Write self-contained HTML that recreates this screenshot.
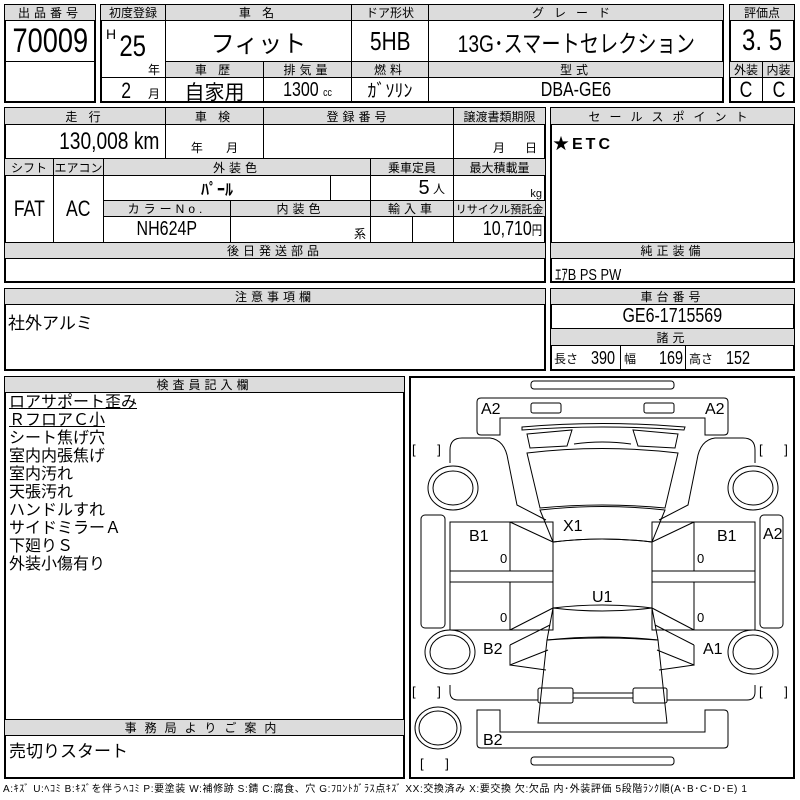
<!DOCTYPE html>
<html><head><meta charset="utf-8"><style>
body{margin:0;width:800px;height:800px;background:#fff;position:relative;overflow:hidden;font-family:"Liberation Sans","Noto Sans CJK JP",sans-serif;color:#000}
.c{position:absolute;border:1px solid #000;box-sizing:border-box;display:flex;align-items:center;justify-content:center;white-space:nowrap;overflow:hidden}
.h{background:#dcdcdc;font-size:12px;letter-spacing:4px}
.b{position:absolute;border:2px solid #000;box-sizing:border-box}
.t{position:absolute;white-space:nowrap}
.n{display:inline-block;transform:scaleX(.8)}
</style></head><body>
<div class="b" style="left:4px;top:4px;width:92px;height:99px"></div>
<div class="c h" style="left:4px;top:4px;width:92px;height:17px">出品番号</div>
<div class="c" style="left:4px;top:20px;width:92px;height:42px;font-size:34px"><span class="n">70009</span></div>
<div class="b" style="left:100px;top:4px;width:624px;height:99px"></div>
<div class="c h" style="left:100px;top:4px;width:66px;height:17px;letter-spacing:0">初度登録</div>
<div class="c h" style="left:165px;top:4px;width:187px;height:17px">車 名</div>
<div class="c h" style="left:351px;top:4px;width:78px;height:17px;letter-spacing:0">ドア形状</div>
<div class="c h" style="left:428px;top:4px;width:296px;height:17px;letter-spacing:10px">グレード</div>
<div class="c" style="left:100px;top:20px;width:66px;height:58px"></div>
<div class="t" style="left:106px;top:26px;font-size:14px">H</div>
<div class="t" style="left:116px;top:30px;font-size:30px"><span class="n">25</span></div>
<div class="t" style="left:148px;top:61px;font-size:12px">年</div>
<div class="c" style="left:165px;top:20px;width:187px;height:42px;font-size:24px">フィット</div>
<div class="c" style="left:351px;top:20px;width:78px;height:42px;font-size:26px"><span class="n">5HB</span></div>
<div class="c" style="left:428px;top:20px;width:296px;height:42px;font-size:24px"><span class="n">13G･スマートセレクション</span></div>
<div class="c h" style="left:165px;top:61px;width:99px;height:17px">車 歴</div>
<div class="c h" style="left:263px;top:61px;width:89px;height:17px">排気量</div>
<div class="c h" style="left:351px;top:61px;width:78px;height:17px">燃料</div>
<div class="c h" style="left:428px;top:61px;width:296px;height:17px">型式</div>
<div class="c" style="left:100px;top:77px;width:66px;height:26px"></div>
<div class="t" style="left:120px;top:78px;font-size:22px"><span class="n">2</span></div>
<div class="t" style="left:148px;top:85px;font-size:12px">月</div>
<div class="c" style="left:165px;top:77px;width:99px;height:26px;font-size:20px">自家用</div>
<div class="c" style="left:263px;top:77px;width:89px;height:26px;font-size:20px"><span class="n">1300 <small style="font-size:11px">cc</small></span></div>
<div class="c" style="left:351px;top:77px;width:78px;height:26px;font-size:18px">ｶﾞｿﾘﾝ</div>
<div class="c" style="left:428px;top:77px;width:296px;height:26px;font-size:20px"><span class="n">DBA-GE6</span></div>
<div class="b" style="left:729px;top:4px;width:66px;height:99px"></div>
<div class="c h" style="left:729px;top:4px;width:66px;height:17px;letter-spacing:0">評価点</div>
<div class="c" style="left:729px;top:20px;width:66px;height:42px;font-size:30px"><span class="n">3.&nbsp;5</span></div>
<div class="c h" style="left:729px;top:61px;width:34px;height:17px;letter-spacing:0">外装</div>
<div class="c h" style="left:762px;top:61px;width:33px;height:17px;letter-spacing:0">内装</div>
<div class="c" style="left:729px;top:77px;width:34px;height:26px;font-size:22px"><span class="n">C</span></div>
<div class="c" style="left:762px;top:77px;width:33px;height:26px;font-size:22px"><span class="n">C</span></div>
<div class="b" style="left:4px;top:107px;width:542px;height:176px"></div>
<div class="c h" style="left:4px;top:107px;width:162px;height:18px">走 行</div>
<div class="c h" style="left:165px;top:107px;width:99px;height:18px">車 検</div>
<div class="c h" style="left:263px;top:107px;width:191px;height:18px">登録番号</div>
<div class="c h" style="left:453px;top:107px;width:93px;height:18px;letter-spacing:0">譲渡書類期限</div>
<div class="c" style="left:4px;top:124px;width:162px;height:35px;font-size:24px;justify-content:flex-end;padding-right:6px"><span class="n" style="transform-origin:right">130,008 km</span></div>
<div class="c" style="left:165px;top:124px;width:99px;height:35px;font-size:12px;align-items:flex-end;padding-bottom:2px">年&nbsp;&nbsp;&nbsp;&nbsp;&nbsp;&nbsp;&nbsp;月</div>
<div class="c" style="left:263px;top:124px;width:191px;height:35px"></div>
<div class="c" style="left:453px;top:124px;width:93px;height:35px;font-size:12px;align-items:flex-end;padding-bottom:2px;justify-content:flex-end;padding-right:8px">月&nbsp;&nbsp;&nbsp;&nbsp;&nbsp;&nbsp;日</div>
<div class="c h" style="left:4px;top:158px;width:50px;height:18px;letter-spacing:0">シフト</div>
<div class="c h" style="left:53px;top:158px;width:51px;height:18px;letter-spacing:0">エアコン</div>
<div class="c h" style="left:103px;top:158px;width:268px;height:18px">外装色</div>
<div class="c h" style="left:370px;top:158px;width:84px;height:18px;letter-spacing:0">乗車定員</div>
<div class="c h" style="left:453px;top:158px;width:93px;height:18px;letter-spacing:0">最大積載量</div>
<div class="c" style="left:4px;top:175px;width:50px;height:68px;font-size:22px"><span class="n">FAT</span></div>
<div class="c" style="left:53px;top:175px;width:51px;height:68px;font-size:22px"><span class="n">AC</span></div>
<div class="c" style="left:103px;top:175px;width:228px;height:26px;font-size:16px;font-weight:bold">ﾊﾟｰﾙ</div>
<div class="c" style="left:330px;top:175px;width:41px;height:26px"></div>
<div class="c" style="left:370px;top:175px;width:84px;height:26px;font-size:20px;justify-content:flex-end;padding-right:8px">5 <small style="font-size:12px">&nbsp;人</small></div>
<div class="c" style="left:453px;top:175px;width:93px;height:26px;font-size:11px;justify-content:flex-end;padding-right:3px;align-items:flex-end">kg</div>
<div class="c h" style="left:103px;top:200px;width:128px;height:17px">カラーNo.</div>
<div class="c h" style="left:230px;top:200px;width:141px;height:17px">内装色</div>
<div class="c h" style="left:370px;top:200px;width:84px;height:17px">輸入車</div>
<div class="c h" style="left:453px;top:200px;width:93px;height:17px;letter-spacing:0;font-size:11px">リサイクル預託金</div>
<div class="c" style="left:103px;top:216px;width:128px;height:27px;font-size:20px"><span class="n">NH624P</span></div>
<div class="c" style="left:230px;top:216px;width:141px;height:27px;font-size:12px;justify-content:flex-end;align-items:flex-end;padding-right:4px">系</div>
<div class="c" style="left:370px;top:216px;width:43px;height:27px"></div>
<div class="c" style="left:412px;top:216px;width:42px;height:27px"></div>
<div class="c" style="left:453px;top:216px;width:93px;height:27px;font-size:20px;justify-content:flex-end;padding-right:3px"><span class="n" style="transform-origin:right">10,710<small style="font-size:13px">円</small></span></div>
<div class="c h" style="left:4px;top:242px;width:542px;height:17px">後日発送部品</div>
<div class="b" style="left:550px;top:107px;width:245px;height:176px"></div>
<div class="c h" style="left:550px;top:107px;width:245px;height:18px;letter-spacing:9px">セールスポイント</div>
<div class="t" style="left:553px;top:130px;font-size:16px;font-weight:bold;letter-spacing:3px">★ETC</div>
<div class="c h" style="left:550px;top:242px;width:245px;height:17px">純正装備</div>
<div class="t" style="left:555px;top:261px;font-size:16px"><span class="n" style="transform-origin:left">ｴｱB PS PW</span></div>
<div class="b" style="left:4px;top:288px;width:542px;height:83px"></div>
<div class="c h" style="left:4px;top:288px;width:542px;height:17px">注意事項欄</div>
<div class="t" style="left:8px;top:309px;font-size:17px">社外アルミ</div>
<div class="b" style="left:550px;top:288px;width:245px;height:83px"></div>
<div class="c h" style="left:550px;top:288px;width:245px;height:17px">車台番号</div>
<div class="c" style="left:550px;top:304px;width:245px;height:25px;font-size:20px"><span class="n">GE6-1715569</span></div>
<div class="c h" style="left:550px;top:328px;width:245px;height:18px">諸元</div>
<div class="c" style="left:550px;top:345px;width:71px;height:26px;font-size:18px;justify-content:flex-start;padding-left:3px"><small style="font-size:12px">長さ</small>&nbsp;&nbsp;<span class="n">390</span></div>
<div class="c" style="left:620px;top:345px;width:66px;height:26px;font-size:18px;justify-content:flex-start;padding-left:3px"><small style="font-size:12px">幅</small>&nbsp;&nbsp;&nbsp;&nbsp;<span class="n">169</span></div>
<div class="c" style="left:685px;top:345px;width:110px;height:26px;font-size:18px;justify-content:flex-start;padding-left:3px"><small style="font-size:12px">高さ</small>&nbsp;&nbsp;<span class="n">152</span></div>
<div class="b" style="left:4px;top:376px;width:401px;height:403px"></div>
<div class="c h" style="left:4px;top:376px;width:401px;height:17px">検査員記入欄</div>
<div class="t" style="left:9px;top:394px;font-size:16px;line-height:18px">
<u>ロアサポート歪み</u><br><u>ＲフロアＣ小</u><br>シート焦げ穴<br>室内内張焦げ<br>室内汚れ<br>天張汚れ<br>ハンドルすれ<br>サイドミラーＡ<br>下廻りＳ<br>外装小傷有り</div>
<div class="c h" style="left:4px;top:719px;width:401px;height:17px;letter-spacing:8px">事務局よりご案内</div>
<div class="t" style="left:9px;top:737px;font-size:17px">売切りスタート</div>
<div class="t" style="left:3px;top:780px;font-size:10px;letter-spacing:0.6px">A:ｷｽﾞ U:ﾍｺﾐ B:ｷｽﾞを伴うﾍｺﾐ P:要塗装 W:補修跡 S:錆 C:腐食、穴 G:ﾌﾛﾝﾄｶﾞﾗｽ点ｷｽﾞ XX:交換済み X:要交換 欠:欠品 内･外装評価 5段階ﾗﾝｸ順(A･B･C･D･E) 1</div>
<div class="b" style="left:409px;top:376px;width:386px;height:403px"></div>
<svg style="position:absolute;left:0;top:0" width="800" height="800" fill="none" stroke="#000" stroke-width="1">
<rect x="531" y="381" width="143" height="8" rx="3"/>
<path d="M481,398 H724 Q728,398 728,402 V431 Q728,435 724,435 H705 V418 H500 V435 H481 Q477,435 477,431 V402 Q477,398 481,398Z"/>
<rect x="531" y="403" width="30" height="10" rx="2"/><rect x="644" y="403" width="30" height="10" rx="2"/>
<path d="M522,427 Q602,420 685,427 L684,430 Q602,424 522,430Z"/>
<path d="M527,434 L572,430 L567,446 L530,448Z"/><path d="M678,434 L633,430 L638,446 L675,448Z"/>
<path d="M574,444 Q602,440 631,444"/>
<path d="M527,453 Q602,444 678,453 L665,508 Q602,502 540,508Z"/>
<path d="M540,510 Q602,503 665,510 L652,542 Q602,536 553,542Z"/>
<path d="M553,542 Q602,536 652,542 V608 Q602,602 553,608Z"/>
<path d="M553,608 Q602,614 652,608 L658,640 Q602,634 547,640Z"/>
<path d="M547,640 Q602,636 658,640 L667,723 H538Z"/>
<rect x="538" y="688" width="35" height="15" rx="2"/><rect x="633" y="688" width="34" height="15" rx="2"/>
<line x1="573" y1="693" x2="633" y2="693"/><line x1="573" y1="698" x2="633" y2="698"/>
<path d="M477,710 H500 V732 H705 V710 H724 Q728,710 728,714 V744 Q728,748 724,748 H481 Q477,748 477,744Z"/>
<rect x="531" y="757" width="143" height="8" rx="3"/>
<path d="M450,463 V450 Q450,438 462,438 H490 Q505,440 508,460 L517,505 L546,520"/>
<rect x="421" y="515" width="24" height="113" rx="4"/>
<rect x="450" y="522" width="103" height="108"/>
<line x1="510" y1="522" x2="510" y2="630"/>
<rect x="450" y="571" width="103" height="11" fill="#fff"/>
<path d="M510,522 L553,542 M510,630 L553,608"/>
<path d="M510,645 L550,625 M510,645 V665 L548,650 M510,665 L546,670"/>
<path d="M450,685 V692 Q450,700 458,700 H538"/>
<path d="M755,463 V450 Q755,438 743,438 H715 Q700,440 697,460 L688,505 L659,520"/>
<rect x="760" y="515" width="23" height="113" rx="4"/>
<rect x="652" y="522" width="103" height="108"/>
<line x1="694" y1="522" x2="694" y2="630"/>
<rect x="652" y="571" width="103" height="11" fill="#fff"/>
<path d="M694,522 L652,542 M694,630 L652,608"/>
<path d="M694,645 L655,625 M694,645 V665 L657,650 M694,665 L659,670"/>
<path d="M755,685 V692 Q755,700 747,700 H667"/>
<ellipse cx="453" cy="488" rx="25" ry="22"/><ellipse cx="453" cy="488" rx="20" ry="17"/>
<ellipse cx="450" cy="652" rx="25" ry="22"/><ellipse cx="450" cy="652" rx="20" ry="17"/>
<ellipse cx="753" cy="488" rx="25" ry="22"/><ellipse cx="753" cy="488" rx="20" ry="17"/>
<ellipse cx="753" cy="652" rx="25" ry="22"/><ellipse cx="753" cy="652" rx="20" ry="17"/>
<ellipse cx="438" cy="728" rx="23" ry="21"/><ellipse cx="438" cy="728" rx="19" ry="17"/>
<g stroke="none" fill="#000" font-family="Liberation Sans" font-size="16">
<text x="481" y="414">A2</text><text x="705" y="414">A2</text>
<text x="469" y="541">B1</text><text x="717" y="541">B1</text>
<text x="763" y="539">A2</text><text x="563" y="531">X1</text>
<text x="592" y="602">U1</text><text x="483" y="654">B2</text>
<text x="703" y="654">A1</text><text x="483" y="745">B2</text>
<g font-size="13"><text x="500" y="563">0</text><text x="500" y="622">0</text><text x="697" y="563">0</text><text x="697" y="622">0</text>
<text x="412" y="454">[&#160;&#160;&#160;&#160;&#160;&#160;]</text><text x="759" y="454">[&#160;&#160;&#160;&#160;&#160;&#160;]</text>
<text x="412" y="696">[&#160;&#160;&#160;&#160;&#160;&#160;]</text><text x="759" y="696">[&#160;&#160;&#160;&#160;&#160;&#160;]</text>
<text x="420" y="768">[&#160;&#160;&#160;&#160;&#160;&#160;]</text></g>
</g>
</svg>
</body></html>
